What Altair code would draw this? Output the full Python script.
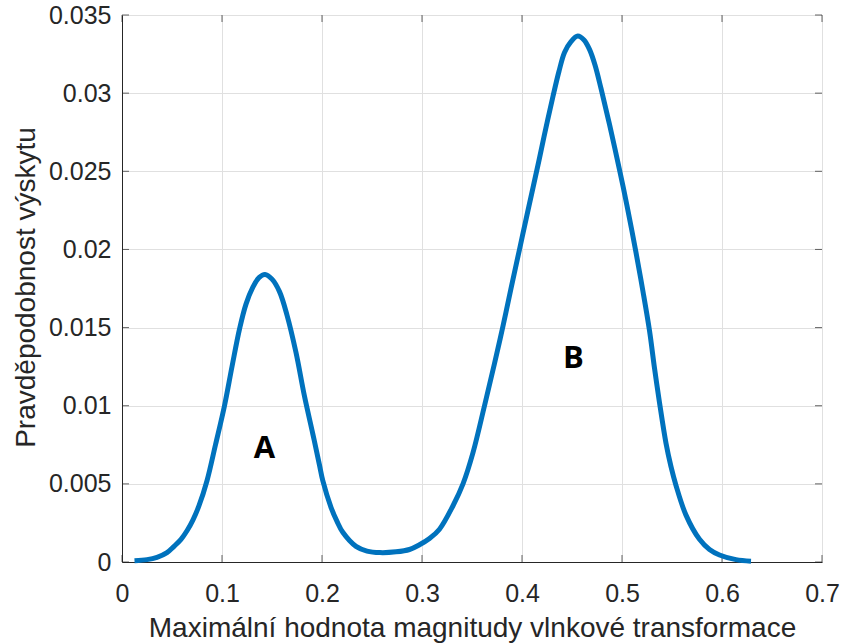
import altair as alt
import pandas as pd

x_vals = [0.0125, 0.025, 0.035, 0.045, 0.052, 0.059, 0.065, 0.071, 0.077, 0.085, 0.0935, 0.1025, 0.110, 0.1175,
          0.124, 0.131, 0.137, 0.143, 0.150, 0.1575, 0.165, 0.174, 0.1825, 0.1908, 0.1975, 0.2008, 0.209, 0.215,
          0.2208, 0.234, 0.245, 0.258, 0.274, 0.2875, 0.2975, 0.3075, 0.3175, 0.331, 0.341, 0.351, 0.3625,
          0.3725, 0.381, 0.389, 0.3975, 0.406, 0.417, 0.424, 0.431, 0.437, 0.4425, 0.449, 0.4558, 0.462, 0.4675,
          0.473, 0.479, 0.4875, 0.4975, 0.505, 0.514, 0.521, 0.5275, 0.5325, 0.5375, 0.544, 0.549, 0.554, 0.564,
          0.5775, 0.5875, 0.5975, 0.614, 0.629]
y_vals = [0.00008, 0.00015, 0.0003, 0.0006, 0.0010, 0.00145, 0.0020, 0.0027, 0.0036, 0.0052, 0.0075, 0.0100, 0.0125, 0.0149,
          0.0165, 0.0176, 0.0182, 0.0184, 0.0181, 0.0173, 0.0158, 0.0134, 0.0106, 0.0082, 0.0062, 0.0052, 0.0035, 0.0026,
          0.0019, 0.0010, 0.0007, 0.0006, 0.00065, 0.0008, 0.0011, 0.0015, 0.0021, 0.0036, 0.0050, 0.0070, 0.0100,
          0.0127, 0.0151, 0.0175, 0.0200, 0.0225, 0.0257, 0.0278, 0.0298, 0.0314, 0.0326, 0.0333, 0.03365, 0.0334, 0.0328,
          0.0318, 0.0303, 0.0280, 0.0251, 0.0228, 0.0198, 0.0173, 0.0148, 0.0124, 0.0102, 0.0076, 0.0061, 0.0049, 0.0030,
          0.00145, 0.0008, 0.00045, 0.00015, 0.00005]

labels = ["A", "B"]
label_x = [0.1425, 0.4515]
label_y = [0.0072, 0.0130]

x_ticks = [0, 0.1, 0.2, 0.3, 0.4, 0.5, 0.6, 0.7]
y_ticks = [0, 0.005, 0.01, 0.015, 0.02, 0.025, 0.03, 0.035]

curve = pd.DataFrame({"x": x_vals, "y": y_vals})
lab = pd.DataFrame({"t": labels, "x": label_x, "y": label_y})
xt = pd.DataFrame({"v": x_ticks})
yt = pd.DataFrame({"v": y_ticks})

W, H = 700, 547
FONT = "Liberation Sans"
DARK = "#262626"
LBL = 25
TTL = 28

xscale = alt.Scale(domain=[0, 0.7], nice=False, zero=False)
yscale = alt.Scale(domain=[0, 0.035], nice=False, zero=False)

xaxis = alt.Axis(values=x_ticks, format="~g", title="Maximální hodnota magnitudy vlnkové transformace",
                 grid=True, gridColor="#e0e0e0", gridWidth=1, ticks=False, domainColor=DARK, domainWidth=1,
                 labelFlush=False,
                 labelFont=FONT, labelFontSize=LBL, labelColor=DARK, labelPadding=19,
                 titleFont=FONT, titleFontSize=TTL, titleFontWeight="normal", titleColor=DARK, titlePadding=8)
yaxis = alt.Axis(values=y_ticks, format="~g", title="Pravděpodobnost výskytu",
                 grid=True, gridColor="#e0e0e0", gridWidth=1, ticks=False, domainColor=DARK, domainWidth=1,
                 labelFlush=False,
                 labelFont=FONT, labelFontSize=LBL, labelColor=DARK, labelPadding=11,
                 titleFont=FONT, titleFontSize=TTL, titleFontWeight="normal", titleColor=DARK,
                 titleX=-96, titleY=272, titleBaseline="middle", titleAngle=270)

line = alt.Chart(curve).mark_line(color="#0072BD", strokeWidth=5, interpolate="catmull-rom").encode(
    x=alt.X("x:Q", scale=xscale, axis=xaxis),
    y=alt.Y("y:Q", scale=yscale, axis=yaxis),
)

text = alt.Chart(lab).mark_text(font="Open Sans", fontSize=31, fontWeight="bold", color="black").encode(
    x=alt.X("x:Q", scale=xscale),
    y=alt.Y("y:Q", scale=yscale),
    text="t:N",
)

tb = alt.Chart(xt).mark_tick(orient="vertical", size=7, thickness=1, color=DARK).encode(
    x=alt.X("v:Q", scale=xscale), y=alt.value(H - 3.5))
tt = alt.Chart(xt).mark_tick(orient="vertical", size=7, thickness=1, color=DARK).encode(
    x=alt.X("v:Q", scale=xscale), y=alt.value(3.5))
tl = alt.Chart(yt).mark_tick(orient="horizontal", size=7, thickness=1, color=DARK).encode(
    y=alt.Y("v:Q", scale=yscale), x=alt.value(3.5))
tr = alt.Chart(yt).mark_tick(orient="horizontal", size=7, thickness=1, color=DARK).encode(
    y=alt.Y("v:Q", scale=yscale), x=alt.value(W - 3.5))

chart = alt.layer(tb, tt, tl, tr, line, text).properties(
    width=W, height=H,
    autosize=alt.AutoSizeParams(type="none"),
    padding={"left": 122, "top": 15, "right": 19, "bottom": 81},
).configure_view(stroke=DARK, strokeWidth=1).configure(background="white")

chart.save("out.html", embed_options={"renderer": "svg", "actions": False})
